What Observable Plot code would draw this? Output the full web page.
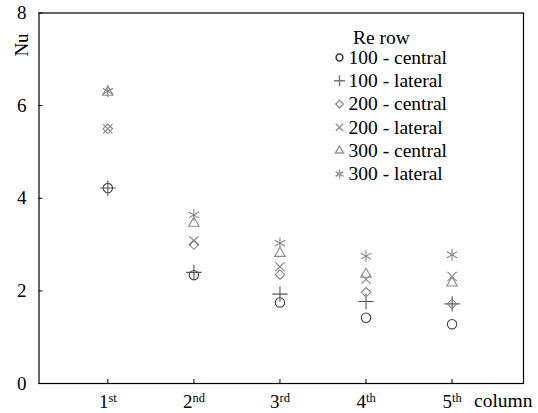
<!DOCTYPE html>
<html>
<head>
<meta charset="utf-8">
<script src="https://cdn.jsdelivr.net/npm/d3@7"></script>
<script src="https://cdn.jsdelivr.net/npm/@observablehq/plot@0.6"></script>
<style>
  html, body { margin: 0; padding: 0; background: #fff; }
  #chart { width: 538px; height: 413px; }
  #chart svg, #chart svg text { font-family: "Liberation Serif", "Times New Roman", serif; }
</style>
</head>
<body>
<div id="chart"></div>
<script>
// ---- data ----
const columns = [1, 2, 3, 4, 5];
const tickNums = ["1", "2", "3", "4", "5"];
const tickSups = ["st", "nd", "rd", "th", "th"];
const yTicks = [0, 2, 4, 6, 8];
const seriesNames = ["100 - central", "100 - lateral", "200 - central", "200 - lateral", "300 - central", "300 - lateral"];
const nu100central = [4.22, 2.34, 1.75, 1.42, 1.28];
const nu100lateral = [4.22, 2.40, 1.93, 1.77, 1.72];
const nu200central = [5.50, 3.00, 2.35, 1.97, 1.72];
const nu200lateral = [5.50, 3.08, 2.52, 2.25, 2.31];
const nu300central = [6.29, 3.46, 2.81, 2.36, 2.17];
const nu300lateral = [6.31, 3.64, 3.03, 2.75, 2.78];
const seriesValues = [nu100central, nu100lateral, nu200central, nu200lateral, nu300central, nu300lateral];

// ---- styles ----
const symbols = ["circle", "plus", "diamond2", "times", "triangle2", "asterisk"];
const colors = ["#444", "#555", "#888", "#888", "#8a8a8a", "#888"];
const legendColors = ["#333", "#777", "#999", "#999", "#999", "#999"];
const radii = [4.7, 5, 4.3, 4.3, 5, 5.6];
const legendRadii = [3.4, 3.6, 3.4, 3.4, 3.8, 4.2];

const rows = seriesNames.flatMap((s, si) =>
  columns.map((c, ci) => ({column: c, nu: seriesValues[si][ci], series: s})));

const marks = [
  Plot.frame({stroke: "black", strokeWidth: 1.2}),
  Plot.axisY({ticks: yTicks, tickSize: -4, tickPadding: 16.5, fontSize: 19, label: null}),
  Plot.axisX({ticks: columns, tickSize: -4, tickPadding: 15, fontSize: 19, label: null, tickFormat: (d) => String(d)})
];
seriesNames.forEach((s, i) => {
  marks.push(Plot.dot(rows.filter(r => r.series === s), {
    x: "column", y: "nu", symbol: symbols[i], stroke: colors[i], fill: "none", r: radii[i], strokeWidth: 1.1
  }));
});
// legend
marks.push(Plot.text(["Re row"], {frameAnchor: "top-left", lineAnchor: "middle", dx: 314, dy: 24.5, text: d => d, textAnchor: "start", fontSize: 19.5}));
seriesNames.forEach((s, i) => {
  marks.push(Plot.dot([s], {frameAnchor: "top-left", dx: 300.5, dy: 44.5 + 23.3 * i, symbol: symbols[i], stroke: legendColors[i], fill: "none", r: legendRadii[i]}));
  marks.push(Plot.text([s], {frameAnchor: "top-left", lineAnchor: "middle", dx: 309.5, dy: 44.5 + 23.3 * i, text: d => d, textAnchor: "start", fontSize: 19.5}));
});

const chart = Plot.plot({
  width: 538,
  height: 413,
  marginTop: 12.5,
  marginRight: 15,
  marginBottom: 30,
  marginLeft: 38.5,
  style: "font-family: 'Liberation Serif', 'Times New Roman', serif; font-size: 18px; color: black; background: white;",
  x: {domain: [0.2, 5.83]},
  y: {domain: [0, 8]},
  marks
});

const svg = d3.select(chart);
svg.attr("font-family", "Liberation Serif, Times New Roman, serif");
// superscript ordinals on x tick labels
svg.selectAll("g[aria-label='x-axis tick label'] text").each(function(d, i) {
  const t = d3.select(this);
  t.text(null);
  t.append("tspan").text(tickNums[i]);
  t.append("tspan").attr("dy", "-0.5em").attr("font-size", "12.5px").text(tickSups[i]);
});
// axis titles
svg.append("text")
  .attr("transform", "translate(28,45) rotate(-90)")
  .attr("text-anchor", "middle")
  .attr("font-size", 19)
  .attr("fill", "black")
  .text("Nu");
svg.append("text")
  .attr("x", 474)
  .attr("y", 407)
  .attr("text-anchor", "start")
  .attr("font-size", 19.5)
  .attr("fill", "black")
  .text("column");

document.getElementById("chart").appendChild(chart);
</script>
</body>
</html>
